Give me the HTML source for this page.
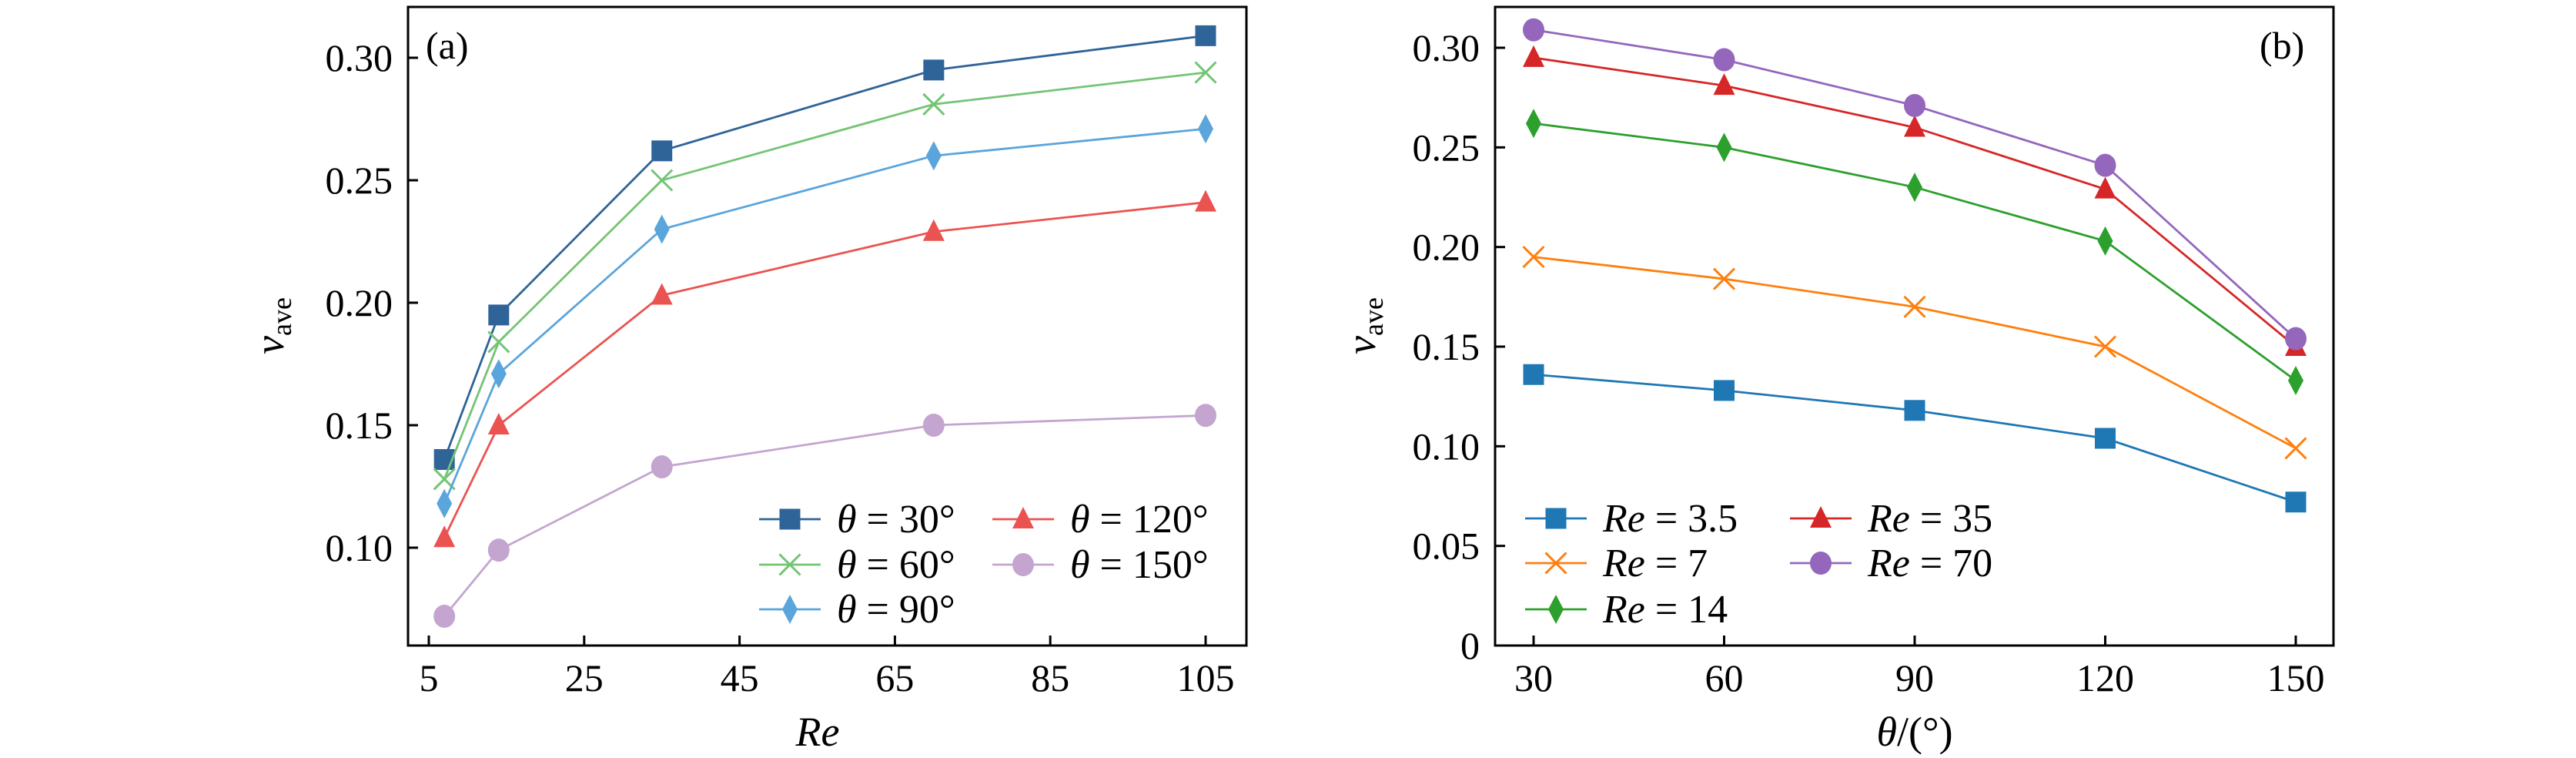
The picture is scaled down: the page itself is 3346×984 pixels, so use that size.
<!DOCTYPE html>
<html><head><meta charset="utf-8">
<style>
html,body{margin:0;padding:0;background:#fff;}
svg{display:block;}
text{font-family:"Liberation Serif",serif;fill:#000;}
</style></head>
<body>
<svg id="chart" width="3346" height="984" viewBox="0 0 3346 984" xmlns="http://www.w3.org/2000/svg"></svg>
<script>
// ---- data ----
const reValues = [7, 14, 35, 70, 105];
const thetaValues = [30, 60, 90, 120, 150];
const theta30 = [0.136, 0.195, 0.262, 0.295, 0.309];
const theta60 = [0.128, 0.184, 0.250, 0.281, 0.294];
const theta90 = [0.118, 0.171, 0.230, 0.260, 0.271];
const theta120 = [0.104, 0.150, 0.203, 0.229, 0.241];
const theta150 = [0.072, 0.099, 0.133, 0.150, 0.154];
const re35s = [0.136, 0.128, 0.118, 0.104, 0.072];
const re7s = [0.195, 0.184, 0.170, 0.150, 0.099];
const re14s = [0.262, 0.250, 0.230, 0.203, 0.133];
const re35b = [0.295, 0.281, 0.260, 0.229, 0.150];
const re70s = [0.309, 0.294, 0.271, 0.241, 0.154];
const aXTicks = [5, 25, 45, 65, 85, 105];
const aYTicks = [0.10, 0.15, 0.20, 0.25, 0.30];
const aYTickLabels = ["0.10", "0.15", "0.20", "0.25", "0.30"];
const bXTicks = [30, 60, 90, 120, 150];
const bYTicks = [0, 0.05, 0.10, 0.15, 0.20, 0.25, 0.30];
const bYTickLabels = ["0", "0.05", "0.10", "0.15", "0.20", "0.25", "0.30"];
const aLegendVar = "θ";
const aLegendVals = ["30°", "60°", "90°", "120°", "150°"];
const bLegendVar = "Re";
const bLegendVals = ["3.5", "7", "14", "35", "70"];

const NS = "http://www.w3.org/2000/svg";
const svg = document.getElementById('chart');
function el(tag, attrs, parent) {
  const e = document.createElementNS(NS, tag);
  for (const k in attrs) e.setAttribute(k, attrs[k]);
  (parent || svg).appendChild(e);
  return e;
}
function marker(g, type, x, y, color) {
  const s = 13.5;
  let m;
  if (type === 'square') m = el('rect', {x: x - s, y: y - s, width: 2 * s, height: 2 * s, fill: color}, g);
  else if (type === 'x') {
    m = el('path', {d: `M${x - s} ${y - s}L${x + s} ${y + s}M${x - s} ${y + s}L${x + s} ${y - s}`, stroke: color, 'stroke-width': 3, fill: 'none'}, g);
  }
  else if (type === 'diamond') m = el('path', {d: `M${x} ${y - 19}L${x + 10} ${y}L${x} ${y + 19}L${x - 10} ${y}Z`, fill: color}, g);
  else if (type === 'tri') m = el('path', {d: `M${x} ${y - 16}L${x + 14} ${y + 12}L${x - 14} ${y + 12}Z`, fill: color}, g);
  else m = el('ellipse', {cx: x, cy: y, rx: 14, ry: 15, fill: color}, g);
  
  
  return m;
}

function panel(cfg) {
  const g = el('g', {});
  
  
  const X = v => cfg.x0 + (v - cfg.xa) / (cfg.xb - cfg.xa) * (cfg.x1 - cfg.x0);
  const Y = v => cfg.y0 + (v - cfg.ya) / (cfg.yb - cfg.ya) * (cfg.y1 - cfg.y0);
  cfg.series.forEach((s, i) => {
    const sg = el('g', {}, g);
    
    
    const pts = cfg.xs.map((xv, j) => X(xv) + ',' + Y(s.vals[j])).join(' ');
    el('polyline', {points: pts, fill: 'none', stroke: s.color, 'stroke-width': 2.8}, sg);
    cfg.xs.forEach((xv, j) => marker(sg, s.m, X(xv), Y(s.vals[j]), s.color));
  });
  const fr = el('rect', {x: cfg.L, y: cfg.T, width: cfg.R - cfg.L, height: cfg.B - cfg.T, fill: 'none', stroke: '#000', 'stroke-width': 3}, g);
  
  
  cfg.xticks.forEach(t => {
    el('line', {x1: X(t), x2: X(t), y1: cfg.B, y2: cfg.B - 13, stroke: '#000', 'stroke-width': 3}, g);
    const tx = el('text', {x: X(t), y: 897, 'font-size': 50, 'text-anchor': 'middle'}, g);
    tx.textContent = t;
    
    
  });
  cfg.yticks.forEach((t, i) => {
    el('line', {x1: cfg.L, x2: cfg.L + 13, y1: Y(t), y2: Y(t), stroke: '#000', 'stroke-width': 3}, g);
    const ty = el('text', {x: cfg.L - 20, y: Y(t) + 17, 'font-size': 50, 'text-anchor': 'end'}, g);
    ty.textContent = cfg.ylabels[i];
    
    
  });
  cfg.series.forEach((s, i) => {
    const col = i < cfg.legRows ? 0 : 1, row = i < cfg.legRows ? i : i - cfg.legRows;
    const lx = cfg.legX[col], ly = cfg.legY[row];
    const lg = el('g', {}, g);
    
    
    el('line', {x1: lx, x2: lx + 80, y1: ly, y2: ly, stroke: s.color, 'stroke-width': 2.8}, lg);
    marker(lg, s.m, lx + 40, ly, s.color);
    const t = el('text', {x: lx + 101, y: ly + 17, 'font-size': 52}, lg);
    const v = el('tspan', {'font-style': 'italic'}, t);
    v.textContent = cfg.legVar;
    const r = el('tspan', {}, t);
    r.textContent = ' = ' + s.label;
  });
}

panel({name: 'panel-a', L: 530, R: 1619, T: 9, B: 838,
  x0: 557, x1: 1566, xa: 5, xb: 105, y0: 711, y1: 75, ya: 0.10, yb: 0.30,
  xs: reValues, xticks: aXTicks, yticks: aYTicks, ylabels: aYTickLabels,
  legRows: 3, legX: [986, 1289], legY: [674, 733, 791], legVar: aLegendVar,
  series: [
    {label: aLegendVals[0], vals: theta30, color: '#2e6497', m: 'square'},
    {label: aLegendVals[1], vals: theta60, color: '#74c476', m: 'x'},
    {label: aLegendVals[2], vals: theta90, color: '#5aa5dc', m: 'diamond'},
    {label: aLegendVals[3], vals: theta120, color: '#eb5350', m: 'tri'},
    {label: aLegendVals[4], vals: theta150, color: '#c3a5d0', m: 'circle'}
  ]});
panel({name: 'panel-b', L: 1942, R: 3031, T: 9, B: 838,
  x0: 1992, x1: 2982, xa: 30, xb: 150, y0: 838, y1: 62, ya: 0, yb: 0.30,
  xs: thetaValues, xticks: bXTicks, yticks: bYTicks, ylabels: bYTickLabels,
  legRows: 3, legX: [1981, 2325], legY: [673, 731, 791], legVar: bLegendVar,
  series: [
    {label: bLegendVals[0], vals: re35s, color: '#1f77b4', m: 'square'},
    {label: bLegendVals[1], vals: re7s, color: '#ff7f0e', m: 'x'},
    {label: bLegendVals[2], vals: re14s, color: '#2ca02c', m: 'diamond'},
    {label: bLegendVals[3], vals: re35b, color: '#d62728', m: 'tri'},
    {label: bLegendVals[4], vals: re70s, color: '#9467bd', m: 'circle'}
  ]});
</script>
<div style="position:absolute;left:0;top:0;width:3346px;height:984px;pointer-events:none">
<svg width="3346" height="984" xmlns="http://www.w3.org/2000/svg">
  <text x="553" y="76" font-size="50" font-family="Liberation Serif, serif">(a)</text>
  <text x="2935" y="76" font-size="50" font-family="Liberation Serif, serif">(b)</text>
  <text x="1062" y="968" font-size="54" font-style="italic" text-anchor="middle" font-family="Liberation Serif, serif">Re</text>
  <text x="2487" y="968" font-size="54" text-anchor="middle" font-family="Liberation Serif, serif"><tspan font-style="italic">θ</tspan>/(°)</text>
  <text transform="translate(368,423) rotate(-90)" font-size="54" text-anchor="middle" font-family="Liberation Serif, serif"><tspan font-style="italic">v</tspan><tspan font-size="36" dy="10">ave</tspan></text>
  <text transform="translate(1786,423) rotate(-90)" font-size="54" text-anchor="middle" font-family="Liberation Serif, serif"><tspan font-style="italic">v</tspan><tspan font-size="36" dy="10">ave</tspan></text>
</svg>
</div>
</body></html>
